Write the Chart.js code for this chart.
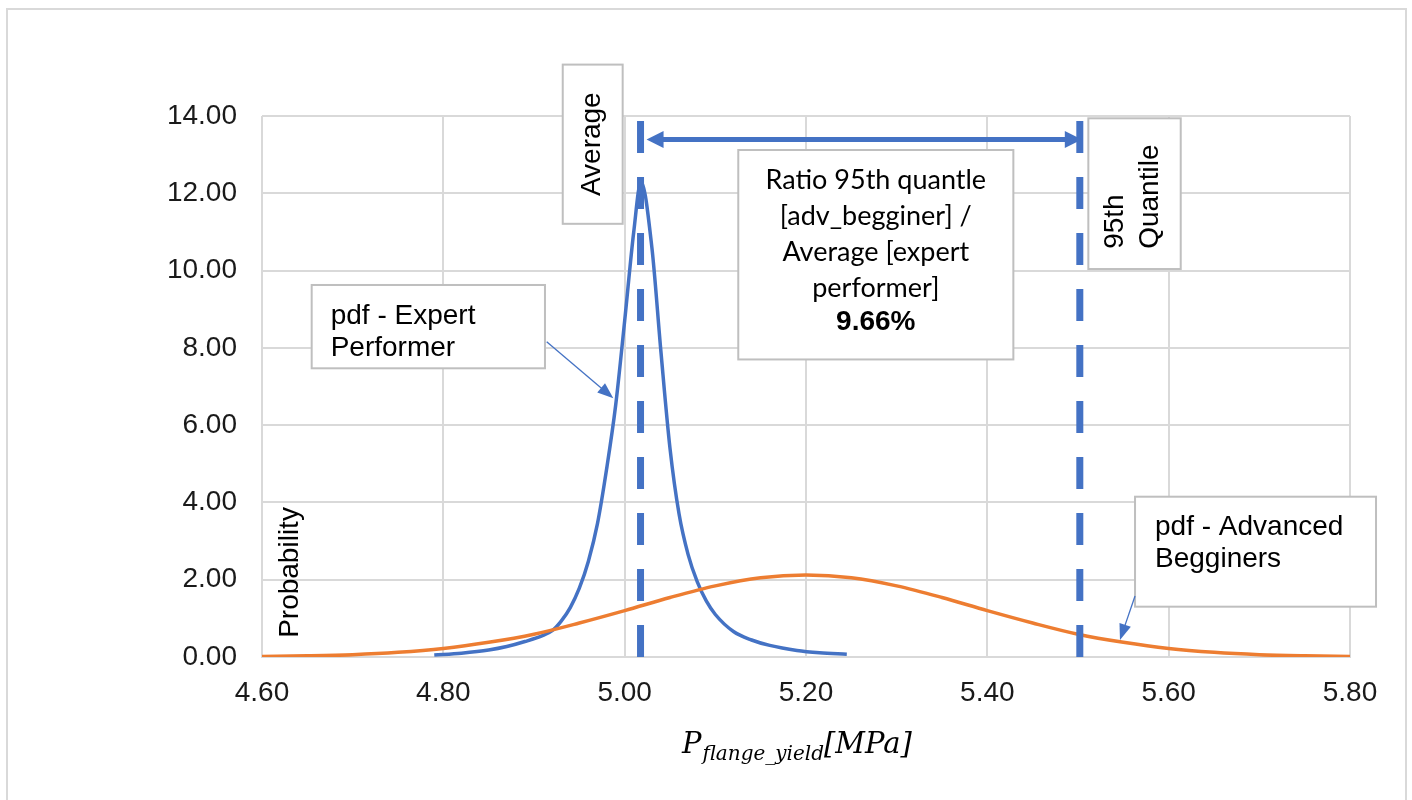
<!DOCTYPE html>
<html>
<head>
<meta charset="utf-8">
<title>pdf comparison</title>
<script src="https://cdn.jsdelivr.net/npm/chart.js@4/dist/chart.umd.min.js"></script>
<style>
  html, body { margin: 0; padding: 0; background: #ffffff; }
  #wrap { width: 1412px; height: 800px; position: relative; }
  canvas { display: block; }
</style>
</head>
<body>
<div id="wrap"><canvas id="c" width="1412" height="800"></canvas></div>
<script>
// ---- data ----
const xTicks = [4.6, 4.8, 5.0, 5.2, 5.4, 5.6, 5.8];
const yTicks = [0, 2, 4, 6, 8, 10, 12, 14];

// probability density, expert performer
const expertX = [4.79, 4.82, 4.85, 4.87, 4.89, 4.91, 4.92, 4.93, 4.94, 4.95, 4.96, 4.97, 4.98, 4.99, 5.00, 5.01, 5.018,
                 5.03, 5.04, 5.05, 5.06, 5.07, 5.08, 5.09, 5.10, 5.12, 5.14, 5.16, 5.19, 5.215, 5.245];
const expertY = [0.05, 0.10, 0.18, 0.27, 0.40, 0.56, 0.68, 0.93, 1.28, 1.78, 2.48, 3.45, 4.85, 6.50, 8.70, 11.00, 12.30,
                 10.60, 7.90, 5.40, 3.70, 2.65, 1.95, 1.45, 1.10, 0.66, 0.44, 0.30, 0.17, 0.11, 0.07];

// probability density, advanced beginners
const beginnerX = [4.60, 4.65, 4.70, 4.75, 4.80, 4.85, 4.90, 4.95, 5.00, 5.05, 5.10, 5.15, 5.20,
                   5.25, 5.30, 5.35, 5.40, 5.45, 5.50, 5.55, 5.60, 5.65, 5.70, 5.75, 5.80];
const beginnerY = [0.013, 0.03, 0.06, 0.12, 0.22, 0.38, 0.59, 0.88, 1.20, 1.54, 1.84, 2.05, 2.12,
                   2.05, 1.84, 1.54, 1.20, 0.88, 0.59, 0.38, 0.22, 0.12, 0.06, 0.03, 0.013];

const averageExpert = 5.0175;       // mean of the expert distribution
const quantile95Beginner = 5.502;   // 95th quantile of the beginners distribution

const ratioLines = ['Ratio 95th quantle', '[adv_begginer] /', 'Average [expert', 'performer]'];
const ratioText = ((quantile95Beginner / averageExpert - 1) * 100).toFixed(2) + '%';

// ---- helpers ----
const pts = (xs, ys) => xs.map((v, i) => ({ x: v, y: ys[i] }));
const BLUE = '#4472C4';
const ORANGE = '#ED7D31';
const GRID = '#d9d9d9';
const BOX_BORDER = '#bfbfbf';
const SANS = '"Liberation Sans", Arial, sans-serif';
const CAL = 'Lato, "Liberation Sans", sans-serif';

function arrowHead(ctx, x1, y1, x2, y2, len, wid) {
  const a = Math.atan2(y2 - y1, x2 - x1);
  ctx.beginPath();
  ctx.moveTo(x2, y2);
  ctx.lineTo(x2 - len * Math.cos(a) + (wid / 2) * Math.sin(a), y2 - len * Math.sin(a) - (wid / 2) * Math.cos(a));
  ctx.lineTo(x2 - len * Math.cos(a) - (wid / 2) * Math.sin(a), y2 - len * Math.sin(a) + (wid / 2) * Math.cos(a));
  ctx.closePath();
  ctx.fill();
}

function arrow(ctx, x1, y1, x2, y2, lw, len, wid, both) {
  const a = Math.atan2(y2 - y1, x2 - x1);
  const sx = both ? x1 + len * 0.9 * Math.cos(a) : x1;
  const sy = both ? y1 + len * 0.9 * Math.sin(a) : y1;
  ctx.save();
  ctx.strokeStyle = BLUE; ctx.fillStyle = BLUE; ctx.lineWidth = lw;
  ctx.beginPath();
  ctx.moveTo(sx, sy);
  ctx.lineTo(x2 - len * 0.9 * Math.cos(a), y2 - len * 0.9 * Math.sin(a));
  ctx.stroke();
  arrowHead(ctx, x1, y1, x2, y2, len, wid);
  if (both) arrowHead(ctx, x2, y2, x1, y1, len, wid);
  ctx.restore();
}

// annotation boxes in axis units: [xLeft, xRight, yBottom, yTop]
const avgBox = [4.9317, 4.9978, 11.21, 15.33];
const q95Box = [5.5114, 5.6133, 10.04, 13.94];
const ratioBox = [5.1253, 5.4287, 7.70, 13.12];
const expertBox = [4.6548, 4.9121, 7.471, 9.627];
const beginnerBox = [5.5629, 5.8287, 1.302, 4.148];

const frame = {
  id: 'frame',
  beforeDraw(chart) {
    const ctx = chart.ctx;
    ctx.save();
    ctx.fillStyle = '#ffffff';
    ctx.fillRect(0, 0, chart.width, chart.height);
    ctx.strokeStyle = GRID;
    ctx.lineWidth = 2;
    ctx.strokeRect(7, 9, 1399, 800);
    ctx.restore();
  }
};

const overlay = {
  id: 'overlay',
  afterDraw(chart) {
    const { ctx, scales: { x, y } } = chart;
    const X = v => x.getPixelForValue(v);
    const Y = v => y.getPixelForValue(v);

    function drawBox(b) {
      const l = X(b[0]), r = X(b[1]), t = Y(b[3]), bt = Y(b[2]);
      ctx.save();
      ctx.fillStyle = '#ffffff';
      ctx.fillRect(l, t, r - l, bt - t);
      ctx.strokeStyle = BOX_BORDER;
      ctx.lineWidth = 2;
      ctx.strokeRect(l, t, r - l, bt - t);
      ctx.restore();
      return { l, r, t, b: bt, cx: (l + r) / 2, cy: (t + bt) / 2 };
    }

    // double-headed arrow between the two reference lines
    const ay = Y(13.39);
    arrow(ctx, X(averageExpert) + 6, ay, X(quantile95Beginner) + 2, ay, 5, 17, 17, true);

    ctx.save();
    ctx.fillStyle = '#000000';
    ctx.textBaseline = 'alphabetic';

    // "Average" box, rotated text
    let bx = drawBox(avgBox);
    ctx.save();
    ctx.translate(bx.cx, bx.cy);
    ctx.rotate(-Math.PI / 2);
    ctx.font = '28px ' + SANS;
    ctx.textAlign = 'center';
    ctx.textBaseline = 'middle';
    ctx.fillStyle = '#000';
    ctx.fillText('Average', 0, 0);
    ctx.restore();

    // "95th Quantile" box, rotated two-line text
    bx = drawBox(q95Box);
    ctx.save();
    ctx.translate(bx.cx, bx.cy);
    ctx.rotate(-Math.PI / 2);
    ctx.font = '28px ' + SANS;
    ctx.textAlign = 'left';
    ctx.textBaseline = 'middle';
    ctx.fillStyle = '#000';
    const qw = ctx.measureText('Quantile').width;
    ctx.fillText('95th', -qw / 2 - 3, -19);
    ctx.fillText('Quantile', -qw / 2 - 3, 16);
    ctx.restore();

    // ratio box
    bx = drawBox(ratioBox);
    ctx.textAlign = 'center';
    ctx.font = '27px ' + CAL;
    ratioLines.forEach((s, i) => ctx.fillText(s, bx.cx, bx.t + 39 + i * 36));
    ctx.font = 'bold 28px ' + SANS;
    ctx.fillText(ratioText, bx.cx, bx.t + 180);

    // expert label + pointer
    bx = drawBox(expertBox);
    ctx.textAlign = 'left';
    ctx.font = '28px ' + SANS;
    ctx.fillText('pdf - Expert', bx.l + 19, bx.t + 39);
    ctx.fillText('Performer', bx.l + 19, bx.t + 71);
    arrow(ctx, X(4.914), Y(8.16), X(4.9875), Y(6.695), 1.3, 16, 12, false);

    // beginners label + pointer
    bx = drawBox(beginnerBox);
    ctx.fillStyle = '#000';
    ctx.textAlign = 'left';
    ctx.font = '28px ' + SANS;
    ctx.fillText('pdf - Advanced', bx.l + 20, bx.t + 38);
    ctx.fillText('Begginers', bx.l + 20, bx.t + 70);
    arrow(ctx, X(5.5629), Y(1.579), X(5.5463), Y(0.44), 1.3, 16, 12, false);

    // y-axis title inside plot
    ctx.save();
    ctx.translate(X(4.6314), Y(2.187));
    ctx.rotate(-Math.PI / 2);
    ctx.textAlign = 'center';
    ctx.textBaseline = 'middle';
    ctx.font = '28px ' + SANS;
    ctx.fillText('Probability', 0, 0);
    ctx.restore();

    // x-axis title: P with subscript, followed by unit
    const mainFont = 'italic 29px "DejaVu Serif", serif';
    const subFont = 'italic 20px "DejaVu Serif", serif';
    ctx.font = mainFont; const wP = ctx.measureText('P').width; const wU = ctx.measureText('[MPa]').width;
    ctx.font = subFont; const wS = ctx.measureText('flange_yield').width;
    const total = wP + 1 + wS + wU;
    let tx = X(5.19) - total / 2;
    const base = 753;
    ctx.textAlign = 'left';
    ctx.font = mainFont; ctx.fillText('P', tx, base); tx += wP + 1;
    ctx.font = subFont; ctx.fillText('flange_yield', tx, base + 7); tx += wS;
    ctx.font = mainFont; ctx.fillText('[MPa]', tx, base);
    ctx.restore();
  }
};

new Chart(document.getElementById('c'), {
  type: 'scatter',
  data: {
    datasets: [
      { label: 'Average', data: [{ x: averageExpert, y: 0 }, { x: averageExpert, y: 14 }], showLine: true,
        borderColor: BLUE, borderWidth: 7, borderDash: [32, 24], borderCapStyle: 'butt', pointRadius: 0, order: 0 },
      { label: '95th Quantile', data: [{ x: quantile95Beginner, y: 0 }, { x: quantile95Beginner, y: 14 }], showLine: true,
        borderColor: BLUE, borderWidth: 7, borderDash: [32, 24], borderCapStyle: 'butt', pointRadius: 0, order: 0 },
      { label: 'pdf - Advanced Begginers', data: pts(beginnerX, beginnerY), showLine: true,
        borderColor: ORANGE, borderWidth: 3.5, pointRadius: 0, cubicInterpolationMode: 'monotone', order: 1 },
      { label: 'pdf - Expert Performer', data: pts(expertX, expertY), showLine: true,
        borderColor: BLUE, borderWidth: 3.5, pointRadius: 0, cubicInterpolationMode: 'monotone', order: 2 }
    ]
  },
  options: {
    responsive: false,
    animation: false,
    devicePixelRatio: 1,
    layout: { padding: { top: 116, right: 62, left: 0, bottom: 0 } },
    plugins: { legend: { display: false }, tooltip: { enabled: false } },
    scales: {
      x: {
        type: 'linear', min: 4.6, max: 5.8,
        afterBuildTicks: s => { s.ticks = xTicks.map(v => ({ value: v })); },
        afterFit: s => { s.height = 143; },
        grid: { color: GRID, lineWidth: 2, drawTicks: false },
        border: { display: true, color: GRID, width: 2 },
        ticks: { padding: 19, color: '#1a1a1a', font: { family: SANS, size: 28 }, maxRotation: 0,
                 callback: v => Number(v).toFixed(2) }
      },
      y: {
        type: 'linear', min: 0, max: 14,
        afterBuildTicks: s => { s.ticks = yTicks.map(v => ({ value: v })); },
        afterFit: s => { s.width = 262; },
        grid: { color: GRID, lineWidth: 2, drawTicks: false },
        border: { display: false },
        ticks: { padding: 25, color: '#1a1a1a', font: { family: SANS, size: 28 },
                 callback: v => Number(v).toFixed(2) }
      }
    }
  },
  plugins: [frame, overlay]
});
</script>
</body>
</html>
